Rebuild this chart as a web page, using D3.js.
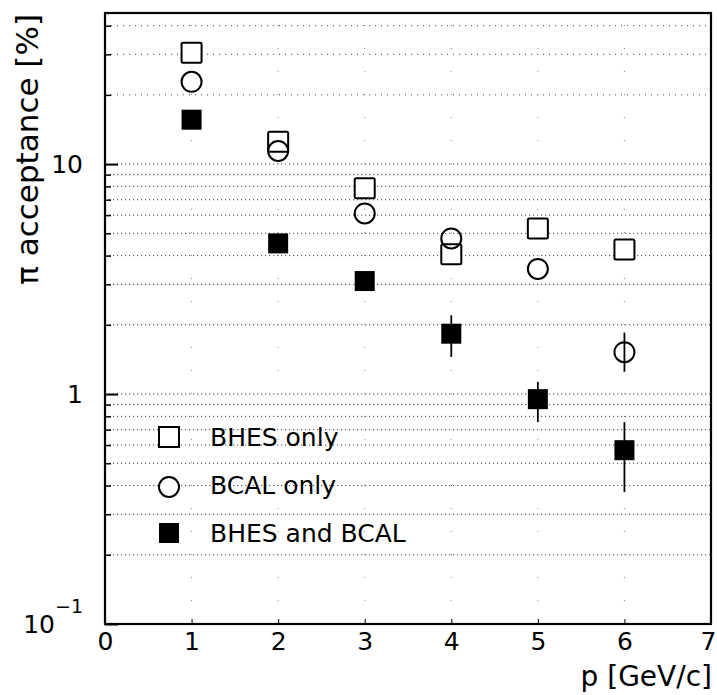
<!DOCTYPE html>
<html>
<head>
<meta charset="utf-8">
<script src="https://cdn.jsdelivr.net/npm/d3@7"></script>
<style>
  body { margin: 0; background: #fff; }
  svg { display: block; font-family: "DejaVu Sans", sans-serif; }
</style>
</head>
<body>
<div id="chart"></div>
<script>
const momentum = [1, 2, 3, 4, 5, 6];
const bhesOnly = [30.5, 12.5, 7.85, 4.05, 5.25, 4.25];
const bcalOnly = [22.8, 11.4, 6.1, 4.75, 3.5, 1.52];
const bcalLow = [22.8, 11.4, 6.1, 4.75, 3.5, 1.25];
const bcalHigh = [22.8, 11.4, 6.1, 4.75, 3.5, 1.85];
const bothDet = [15.6, 4.52, 3.1, 1.83, 0.95, 0.57];
const bothLow = [15.6, 4.52, 3.1, 1.45, 0.755, 0.375];
const bothHigh = [15.6, 4.52, 3.1, 2.2, 1.13, 0.755];
const legendLabels = ["BHES only", "BCAL only", "BHES and BCAL"];
const gridValues = [0.2, 0.3, 0.4, 0.5, 0.6, 0.7, 0.8, 0.9, 1, 2, 3, 4, 5, 6, 7, 8, 9, 10, 20, 30, 40];
const xTicks = [0, 1, 2, 3, 4, 5, 6, 7];

const w = 717;
const h = 695;
const margin = { top: 13, right: 6, bottom: 71, left: 105 };

const svg = d3.select("#chart")
  .append("svg")
  .attr("width", w)
  .attr("height", h);

const x = d3.scaleLinear()
  .domain([0, 7])
  .range([margin.left, w - margin.right]);

const y = d3.scaleLog()
  .domain([0.1, 45.4])
  .range([h - margin.bottom, margin.top]);

// dotted grid
svg.append("g")
  .selectAll("line")
  .data(gridValues)
  .join("line")
    .attr("x1", x(0))
    .attr("x2", x(7))
    .attr("y1", d => y(d))
    .attr("y2", d => y(d))
    .attr("stroke", "#444")
    .attr("stroke-width", 1)
    .attr("stroke-dasharray", d => d >= 20 ? "1,5" : "1.2,2.8");

svg.append("g")
  .selectAll("line")
  .data(momentum)
  .join("line")
    .attr("x1", d => x(d))
    .attr("x2", d => x(d))
    .attr("y1", y(0.1))
    .attr("y2", y(45.4))
    .attr("stroke", "#888")
    .attr("stroke-width", 1)
    .attr("stroke-dasharray", "1,22");

// axes
function yAxis(g) {
  g.attr("transform", `translate(${margin.left},0)`)
    .call(d3.axisLeft(y).tickValues([0.1, 1, 10]).tickSize(-13).tickPadding(22).tickFormat(d => d === 0.1 ? "" : d))
    .attr("font-size", "25px")
    .attr("font-family", null);
  g.select(".domain").remove();
  g.selectAll("line").attr("stroke-width", 2);
}

function yMinor(g) {
  g.attr("transform", `translate(${margin.left},0)`)
    .call(d3.axisLeft(y).tickValues(gridValues.filter(d => d !== 1 && d !== 10)).tickSize(-6).tickFormat(""));
  g.select(".domain").remove();
  g.selectAll("line").attr("stroke-width", 1.5);
}

function xAxis(g) {
  g.attr("transform", `translate(0,${h - margin.bottom})`)
    .call(d3.axisBottom(x).tickValues(xTicks).tickSize(-5).tickPadding(8).tickFormat(d3.format("d")))
    .attr("font-size", "25px")
    .attr("font-family", null);
  g.select(".domain").remove();
  g.selectAll(".tick text").filter(d => d === 7).attr("dx", "-3");
}

svg.append("g").call(yMinor);
const ya = svg.append("g").call(yAxis);
svg.append("g").call(xAxis);

// 10^-1 label
const low = ya.append("text")
  .attr("x", -22)
  .attr("y", y(0.1) + 9)
  .attr("text-anchor", "end")
  .attr("fill", "#000");
low.append("tspan").text("10");
low.append("tspan").attr("dy", -20).attr("font-size", "19px").text("\u22121");

// frame
svg.append("rect")
  .attr("x", x(0))
  .attr("y", y(45.4))
  .attr("width", x(7) - x(0))
  .attr("height", y(0.1) - y(45.4))
  .attr("fill", "none")
  .attr("stroke", "#000")
  .attr("stroke-width", 2.2);

// error bars
function errorBars(lo, hi) {
  svg.append("g")
    .selectAll("line")
    .data(momentum)
    .join("line")
      .attr("x1", d => x(d))
      .attr("x2", d => x(d))
      .attr("y1", (d, i) => y(lo[i]))
      .attr("y2", (d, i) => y(hi[i]))
      .attr("stroke", "#000")
      .attr("stroke-width", 1.8);
}
errorBars(bcalLow, bcalHigh);
errorBars(bothLow, bothHigh);

const s = 20;

svg.append("g")
  .selectAll("rect")
  .data(momentum)
  .join("rect")
    .attr("x", d => x(d) - s / 2)
    .attr("y", (d, i) => y(bhesOnly[i]) - s / 2)
    .attr("width", s)
    .attr("height", s)
    .attr("rx", 1.5)
    .attr("fill", "#fff")
    .attr("stroke", "#000")
    .attr("stroke-width", 2);

svg.append("g")
  .selectAll("circle")
  .data(momentum)
  .join("circle")
    .attr("cx", d => x(d))
    .attr("cy", (d, i) => y(bcalOnly[i]))
    .attr("r", 10)
    .attr("fill", "#fff")
    .attr("fill-opacity", 0)
    .attr("stroke", "#000")
    .attr("stroke-width", 2);

svg.append("g")
  .selectAll("rect")
  .data(momentum)
  .join("rect")
    .attr("x", d => x(d) - s / 2)
    .attr("y", (d, i) => y(bothDet[i]) - s / 2)
    .attr("width", s)
    .attr("height", s)
    .attr("fill", "#000");

// legend
const leg = svg.append("g").attr("transform", "translate(169,437)");
leg.append("rect").attr("x", -10).attr("y", -10).attr("width", 20).attr("height", 20)
  .attr("fill", "#fff").attr("stroke", "#000").attr("stroke-width", 2);
leg.append("circle").attr("cx", 0).attr("cy", 50).attr("r", 10)
  .attr("fill", "#fff").attr("stroke", "#000").attr("stroke-width", 2);
leg.append("rect").attr("x", -10).attr("y", 86).attr("width", 20).attr("height", 20)
  .attr("fill", "#000");
leg.selectAll("text")
  .data(legendLabels)
  .join("text")
    .attr("x", 41)
    .attr("y", (d, i) => i * 48)
    .attr("dy", "0.35em")
    .attr("font-size", "25px")
    .text(d => d);

// axis titles
svg.append("text")
  .attr("transform", "translate(38,14) rotate(-90)")
  .attr("text-anchor", "end")
  .attr("font-size", "31px")
  .text("\u03c0 acceptance [%]");

svg.append("text")
  .attr("x", 712)
  .attr("y", 686)
  .attr("text-anchor", "end")
  .attr("font-size", "28px")
  .text("p [GeV/c]");
</script>
</body>
</html>
